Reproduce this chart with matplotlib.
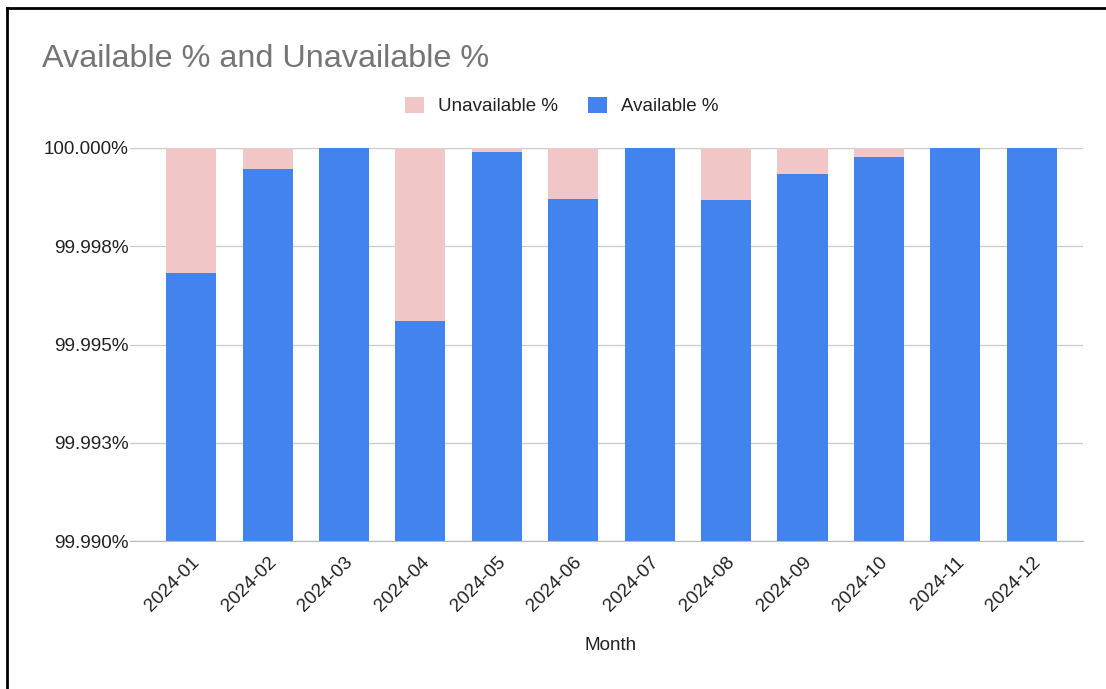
import numpy as np
import matplotlib.pyplot as plt
from matplotlib.lines import Line2D

plt.rcParams['font.family'] = ['Liberation Sans', 'DejaVu Sans']

months = ['2024-01', '2024-02', '2024-03', '2024-04', '2024-05', '2024-06',
          '2024-07', '2024-08', '2024-09', '2024-10', '2024-11', '2024-12']
available = [99.99682, 99.99946, 100.0, 99.99560, 99.99991, 99.99871,
             100.0, 99.99868, 99.99934, 99.99978, 100.0, 100.0]
unavailable = [100.0 - a for a in available]
ytick_vals = [99.990, 99.9925, 99.995, 99.9975, 100.000]
ytick_labels = ['99.990%', '99.993%', '99.995%', '99.998%', '100.000%']

blue = '#4383EE'
pink = '#F0C6C6'

W, H = 1106, 689
fig = plt.figure(figsize=(W / 100, H / 100), dpi=100)
ax = fig.add_axes([130 / W, 1 - 541 / H, (1083 - 130) / W, (541 - 148) / H])

x = np.arange(len(months))
ax.bar(x, available, width=0.655, color=blue, zorder=2, label='Available %')
ax.bar(x, unavailable, bottom=available, width=0.655, color=pink, zorder=2,
       label='Unavailable %')

ax.set_ylim(99.990, 100.000)
ax.set_xlim(-0.8, 11.67)
ax.set_yticks(ytick_vals)
ax.set_yticklabels(ytick_labels)
ax.set_xticks(x)
ax.set_xticklabels(months, rotation=45, ha='right', rotation_mode='anchor')
ax.tick_params(axis='both', length=0, labelsize=13.6, labelcolor='#222222')
ax.tick_params(axis='x', pad=9)
ax.tick_params(axis='y', pad=1)
ax.grid(axis='y', color='#CCCCCC', linewidth=1, zorder=0)
for s in ['top', 'right', 'left']:
    ax.spines[s].set_visible(False)
ax.spines['bottom'].set_color('#BBBBBB')
ax.spines['bottom'].set_zorder(3)

ax.set_xlabel('Month', fontsize=13.6, color='#222222')
ax.xaxis.set_label_coords((611 - 130) / (1083 - 130), -(646 - 541) / (541 - 148))
ax.xaxis.label.set_va('center')

fig.text(42 / W, 1 - 59 / H, 'Available % and Unavailable %', fontsize=23.3,
         color='#757575', va='center', ha='left')

handles, labels = ax.get_legend_handles_labels()
fig.legend(handles[::-1], labels[::-1], loc='center', bbox_to_anchor=(562 / W, 1 - 106 / H),
           ncol=2, frameon=False, fontsize=13.5, handlelength=1.0, handleheight=1.0,
           columnspacing=1.6, handletextpad=0.75, labelcolor='#222222')

# outer frame (top and left only)
fig.add_artist(Line2D([6.5 / W, 6.5 / W], [0, 1 - 7.5 / H], color='black', linewidth=2,
                      transform=fig.transFigure))
fig.add_artist(Line2D([6.5 / W, 1], [1 - 7.5 / H, 1 - 7.5 / H], color='black', linewidth=2,
                      transform=fig.transFigure))

fig.savefig('out.png', dpi=100)
